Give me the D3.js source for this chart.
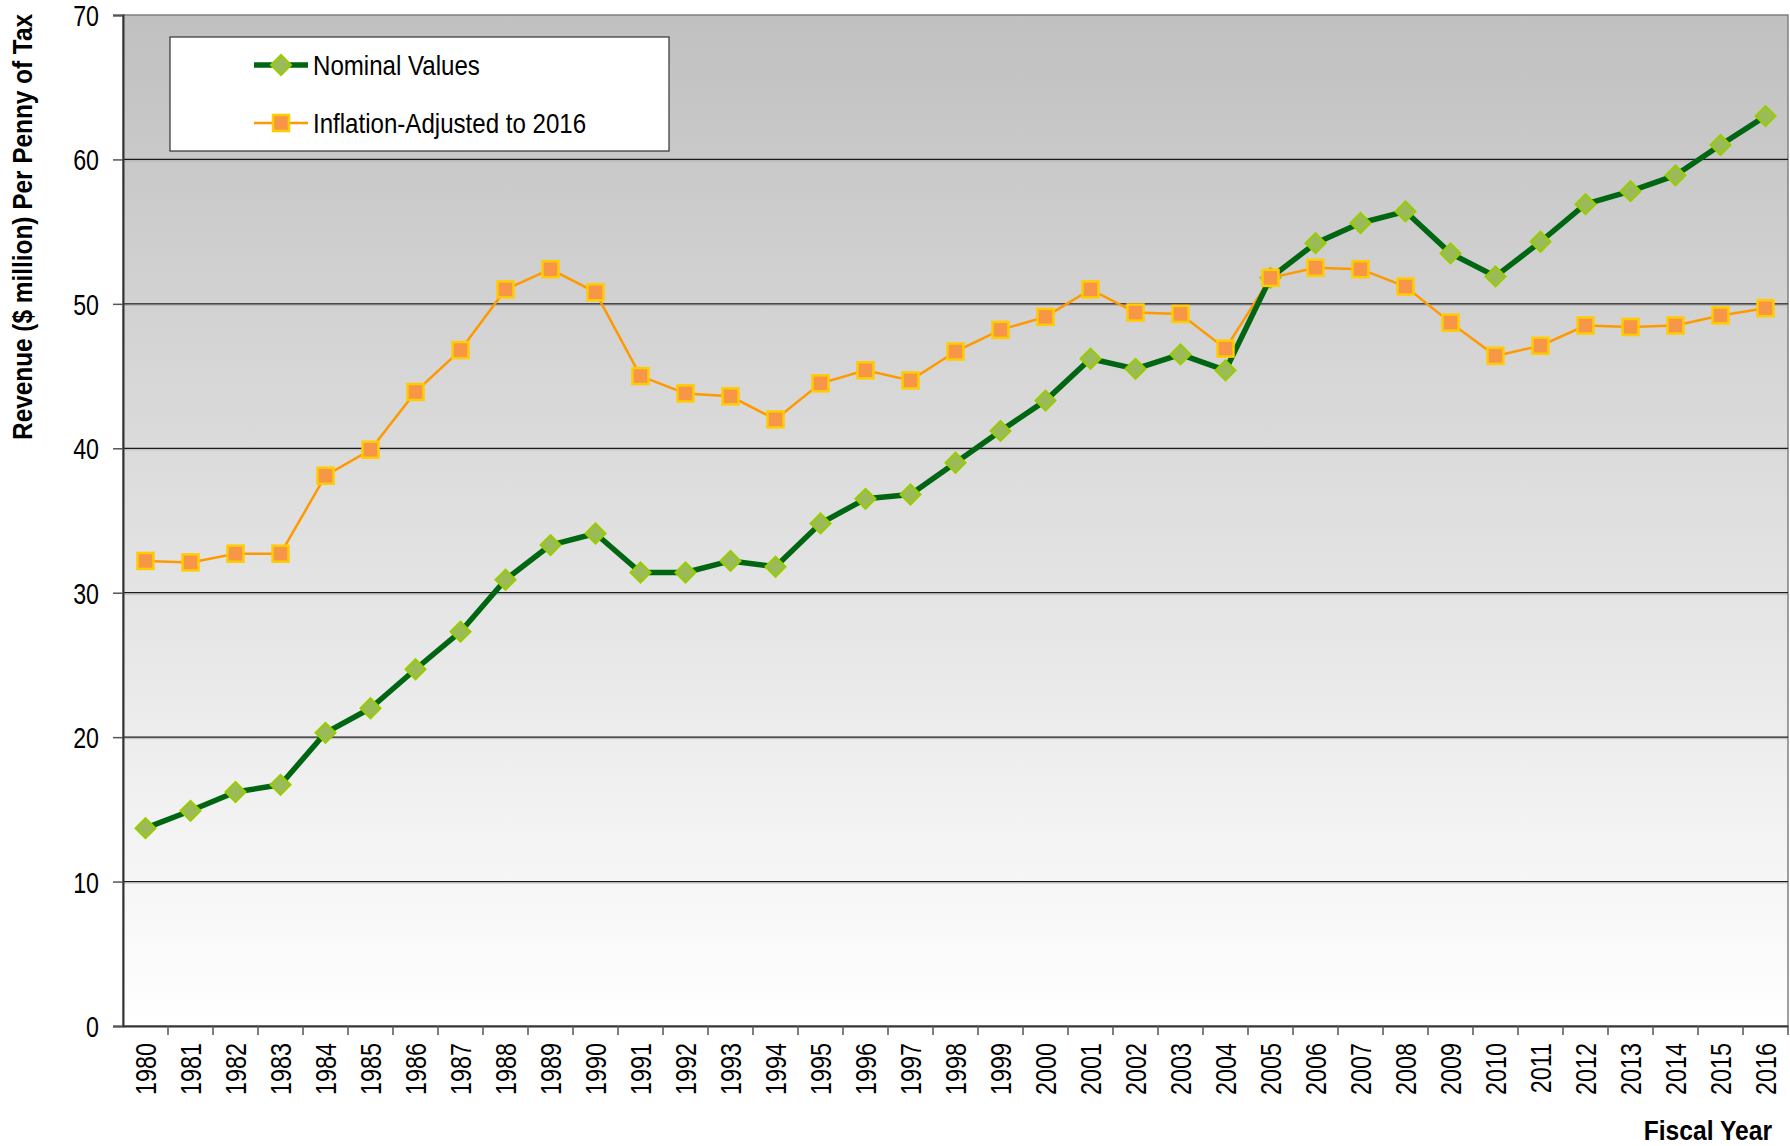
<!DOCTYPE html>
<html>
<head>
<meta charset="utf-8">
<script src="https://cdn.jsdelivr.net/npm/d3@7"></script>
<style>
  html, body { margin: 0; padding: 0; background: #fff; }
  svg text { font-family: 'Liberation Sans Narrow', 'Arial Narrow', 'Liberation Sans', Arial, sans-serif; fill: #000; }
</style>
</head>
<body>
<svg id="chart" width="1790" height="1146"></svg>
<script>
const years = d3.range(1980, 2017).map(String);
const nominal = [13.7, 14.9, 16.2, 16.7, 20.3, 22.0, 24.7, 27.3, 30.9, 33.3,
  34.1, 31.4, 31.4, 32.2, 31.8, 34.8, 36.5, 36.8, 39.0, 41.2,
  43.3, 46.2, 45.5, 46.5, 45.4, 51.8, 54.2, 55.6, 56.4, 53.5,
  51.9, 54.3, 56.9, 57.8, 58.9, 61.0, 63.0];
const adjusted = [32.2, 32.1, 32.7, 32.7, 38.1, 39.9, 43.9, 46.8, 51.0, 52.4,
  50.8, 45.0, 43.8, 43.6, 42.0, 44.5, 45.4, 44.7, 46.7, 48.2,
  49.1, 51.0, 49.4, 49.3, 46.9, 51.8, 52.5, 52.4, 51.2, 48.7,
  46.4, 47.1, 48.5, 48.4, 48.5, 49.2, 49.7];
const yTicks = [0, 10, 20, 30, 40, 50, 60, 70];
const seriesNames = ['Nominal Values', 'Inflation-Adjusted to 2016'];

// no narrow font installed, so squeeze the text to look like Arial Narrow
function condense(sel, factor) {
  sel.each(function () {
    const len = this.getComputedTextLength();
    d3.select(this)
      .attr('textLength', len * factor)
      .attr('lengthAdjust', 'spacingAndGlyphs');
  });
}

const svg = d3.select('#chart');
const margin = { left: 123, right: 2, top: 15, bottom: 120 };
const width = 1790, height = 1146;
const plotW = width - margin.left - margin.right;
const plotH = height - margin.top - margin.bottom;

const x = d3.scaleBand().domain(years).range([0, plotW]);
const y = d3.scaleLinear().domain([0, 70]).range([plotH, 0]);

const defs = svg.append('defs');
const grad = defs.append('linearGradient')
  .attr('id', 'bg').attr('x1', 0).attr('y1', 0).attr('x2', 0).attr('y2', 1);
grad.append('stop').attr('offset', '0%').attr('stop-color', '#c0c0c0');
grad.append('stop').attr('offset', '100%').attr('stop-color', '#ffffff');

const g = svg.append('g').attr('transform', `translate(${margin.left},${margin.top})`);

g.append('rect')
  .attr('width', plotW).attr('height', plotH)
  .attr('fill', 'url(#bg)')
  .attr('stroke', '#808080').attr('stroke-width', 1.5);

// gridlines
const inner = yTicks.filter(d => d > 0 && d < 70);
g.append('g')
  .selectAll('line')
  .data(inner)
  .join('line')
  .attr('x1', 0).attr('x2', plotW)
  .attr('y1', d => y(d)).attr('y2', d => y(d))
  .attr('stroke', '#1a1a1a').attr('stroke-width', 1.2);
g.append('g')
  .selectAll('line')
  .data(inner)
  .join('line')
  .attr('x1', 0).attr('x2', plotW)
  .attr('y1', d => y(d) + 1.5).attr('y2', d => y(d) + 1.5)
  .attr('stroke', '#a0a0a0').attr('stroke-opacity', 0.6).attr('stroke-width', 1);

// y axis
const yAxis = g.append('g')
  .call(d3.axisLeft(y).tickValues(yTicks).tickSize(10).tickPadding(14).tickFormat(d3.format('d')));
yAxis.select('.domain').attr('stroke', '#333').attr('stroke-width', 2);
yAxis.selectAll('.tick line').attr('stroke', '#555').attr('stroke-width', 1.5);
yAxis.selectAll('text').attr('font-size', 29).attr('dy', '0.36em').call(condense, 0.8);

// x axis
const xAxis = g.append('g')
  .attr('transform', `translate(0,${plotH})`)
  .call(d3.axisBottom(x).tickSize(0).tickPadding(0));
xAxis.select('.domain').attr('stroke', '#333').attr('stroke-width', 2);
xAxis.selectAll('.tick text')
  .attr('font-size', 30)
  .attr('text-anchor', 'end')
  .attr('transform', 'translate(0,17) rotate(-90)')
  .attr('x', 0).attr('y', 0).attr('dy', '0.36em')
  .call(condense, 0.78);
g.append('g')
  .attr('transform', `translate(0,${plotH})`)
  .selectAll('line')
  .data(years.slice(1).concat(['end']))
  .join('line')
  .attr('x1', d => d === 'end' ? plotW : x(d))
  .attr('x2', d => d === 'end' ? plotW : x(d))
  .attr('y1', 0).attr('y2', 9)
  .attr('stroke', '#555').attr('stroke-width', 1.5);

const cx = d => x(d) + x.bandwidth() / 2;

const line = d3.line().x((d, i) => cx(years[i])).y(d => y(d));

// inflation-adjusted series
g.append('path')
  .datum(adjusted)
  .attr('fill', 'none')
  .attr('stroke', '#ff9900')
  .attr('stroke-width', 2.5)
  .attr('d', line);

// nominal series
g.append('path')
  .datum(nominal)
  .attr('fill', 'none')
  .attr('stroke', '#006611')
  .attr('stroke-width', 5.5)
  .attr('stroke-linejoin', 'round')
  .attr('d', line);

const diamond = d3.symbol().type(d3.symbolSquare).size(200);
g.append('g')
  .selectAll('path')
  .data(nominal)
  .join('path')
  .attr('d', diamond)
  .attr('transform', (d, i) => `translate(${cx(years[i])},${y(d)}) rotate(45)`)
  .attr('fill', '#9bbb59')
  .attr('stroke', '#99cc00')
  .attr('stroke-width', 2);

g.append('g')
  .selectAll('rect')
  .data(adjusted)
  .join('rect')
  .attr('x', (d, i) => cx(years[i]) - 8)
  .attr('y', d => y(d) - 8)
  .attr('width', 16).attr('height', 16)
  .attr('fill', '#f79646')
  .attr('stroke', '#ffcc00')
  .attr('stroke-width', 2.5);

// legend
const legend = svg.append('g').attr('transform', 'translate(170,37)');
legend.append('rect')
  .attr('width', 499).attr('height', 114)
  .attr('fill', '#fff').attr('stroke', '#333').attr('stroke-width', 1.2);
const items = legend.selectAll('g.item')
  .data(seriesNames)
  .join('g')
  .attr('class', 'item')
  .attr('transform', (d, i) => `translate(0,${i === 0 ? 28 : 86})`);
items.append('line')
  .attr('x1', 84).attr('x2', 138).attr('y1', 0).attr('y2', 0)
  .attr('stroke', (d, i) => i === 0 ? '#006611' : '#ff9900')
  .attr('stroke-width', (d, i) => i === 0 ? 5.5 : 2.5);
items.filter((d, i) => i === 0).append('path')
  .attr('d', diamond)
  .attr('transform', 'translate(111,0) rotate(45)')
  .attr('fill', '#9bbb59').attr('stroke', '#99cc00').attr('stroke-width', 2);
items.filter((d, i) => i === 1).append('rect')
  .attr('x', 103).attr('y', -8).attr('width', 16).attr('height', 16)
  .attr('fill', '#f79646').attr('stroke', '#ffcc00').attr('stroke-width', 2.5);
items.append('text')
  .attr('x', 143).attr('dy', '0.36em')
  .attr('font-size', 28)
  .text(d => d)
  .call(condense, 0.86);

// axis titles
svg.append('text')
  .attr('transform', 'translate(32,14) rotate(-90)')
  .attr('text-anchor', 'end')
  .attr('font-size', 28)
  .attr('font-weight', 'bold')
  .text('Revenue ($ million) Per Penny of Tax')
  .call(condense, 0.87);

svg.append('text')
  .attr('x', 1772).attr('y', 1140)
  .attr('text-anchor', 'end')
  .attr('font-size', 28)
  .attr('font-weight', 'bold')
  .text('Fiscal Year')
  .call(condense, 0.88);
</script>
</body>
</html>
